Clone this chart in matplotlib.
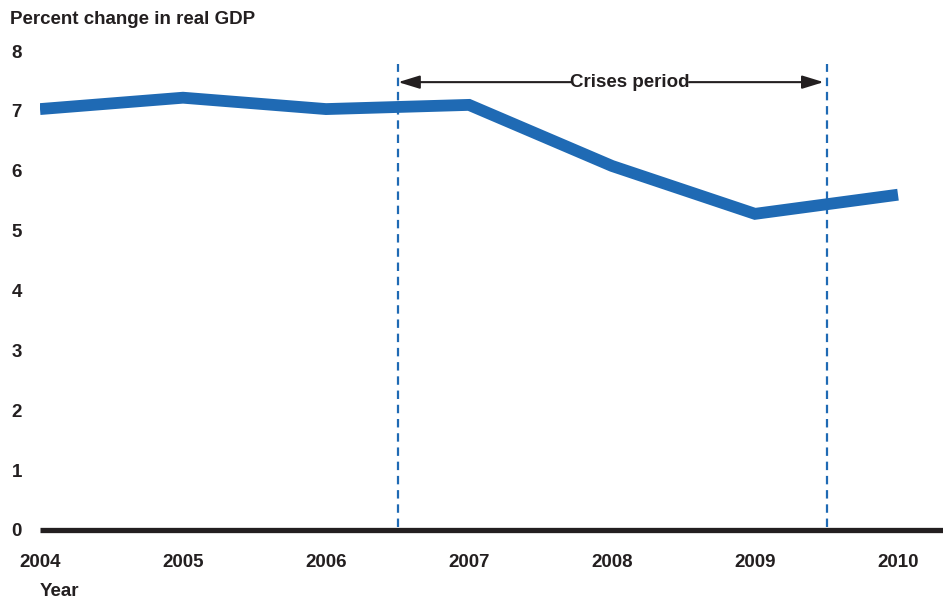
import matplotlib
matplotlib.use("Agg")
import matplotlib.pyplot as plt

plt.rcParams['font.family'] = ['Liberation Sans', 'DejaVu Sans']

years = [2004, 2005, 2006, 2007, 2008, 2009, 2010]
gdp_change = [7.03, 7.22, 7.03, 7.1, 6.08, 5.28, 5.6]
y_ticks = [0, 1, 2, 3, 4, 5, 6, 7, 8]
crisis_start, crisis_end = 2006.5, 2009.5

blue = '#1f6ab4'
ink = '#231f20'
fs = 13.5

W, H = 943, 599
fig = plt.figure(figsize=(W / 100, H / 100), dpi=100)
ax = fig.add_axes([40 / W, 1 - 530 / H, (943 - 40) / W, (530 - 51) / H])

px_per_year = 143.0
x_right = 2004 + (943 - 40) / px_per_year
ax.set_xlim(2004, x_right)
ax.set_ylim(0, 8)

ax.plot(years, gdp_change, color=blue, lw=8.5, solid_joinstyle='miter',
        solid_capstyle='butt', zorder=3)

# crisis window markers
for xv in (crisis_start, crisis_end):
    ax.plot([xv, xv], [0.05, 7.78], color=blue, lw=1.6, ls=(0, (3.8, 2.6)),
            zorder=2, clip_on=False)

# baseline
ax.plot([2004, x_right], [0, 0], color=ink, lw=3.8, solid_capstyle='butt',
        zorder=4, clip_on=False)

# double-headed arrow split by its label
y_arrow = 7.48
label_x = 2004 + (630 - 40) / px_per_year
ax.text(label_x, y_arrow, 'Crises period', ha='center', va='center',
        fontsize=fs, fontweight='bold', color=ink, zorder=5)
arrow_style = dict(arrowstyle='-|>,head_length=1.3,head_width=0.4',
                   color=ink, lw=1.5, shrinkA=0, shrinkB=0)
ax.annotate('', xy=(crisis_start + 0.005, y_arrow),
            xytext=(2004 + (572 - 40) / px_per_year, y_arrow),
            arrowprops=arrow_style)
ax.annotate('', xy=(crisis_end - 0.02, y_arrow),
            xytext=(2004 + (689 - 40) / px_per_year, y_arrow),
            arrowprops=arrow_style)

for s in ax.spines.values():
    s.set_visible(False)

ax.set_xticks(years)
ax.set_xticklabels([str(y) for y in years], fontsize=fs, fontweight='bold', color=ink)
ax.set_yticks(y_ticks)
ax.set_yticklabels([str(v) for v in y_ticks], fontsize=fs, fontweight='bold', color=ink)
ax.tick_params(axis='x', length=0, pad=17)
ax.tick_params(axis='y', length=0, pad=13)

fig.text(10 / W, 1 - 19 / H, 'Percent change in real GDP', fontsize=fs,
         fontweight='bold', color=ink, ha='left', va='center')
fig.text(40 / W, 1 - 591 / H, 'Year', fontsize=fs, fontweight='bold',
         color=ink, ha='left', va='center')

fig.savefig('out.png', dpi=100)
